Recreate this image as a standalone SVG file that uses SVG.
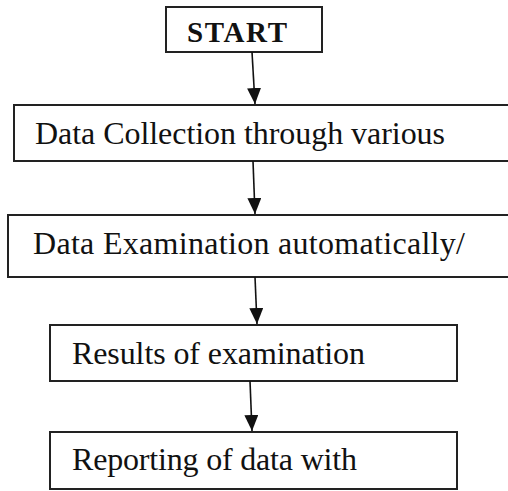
<svg xmlns="http://www.w3.org/2000/svg" width="508" height="491" viewBox="0 0 508 491">
<style>
.box{fill:#fff;stroke:#222;stroke-width:2}
text{font-family:'Liberation Serif',serif;font-size:32px;fill:#111}
.b{font-weight:bold;font-size:29px}
.c{fill:none;stroke:#111;stroke-width:1.6}
</style>
<defs>
<marker id="ah2" markerUnits="userSpaceOnUse" markerWidth="16" markerHeight="14" viewBox="0 0 16 14" refX="16" refY="7" orient="auto">
<path d="M0,0 L16,7 L0,14 Z" fill="#111"/>
</marker>
</defs>
<rect width="508" height="491" fill="#fff"/>
<g id="start"><rect class="box" x="166" y="7" width="156" height="45"/><text class="b" x="187" y="42" textLength="100">START</text></g>
<g id="collection"><rect class="box" x="14" y="105" width="500" height="56"/><text x="35" y="144" textLength="410" lengthAdjust="spacing">Data Collection through various</text></g>
<g id="examination"><rect class="box" x="8" y="215" width="506" height="62"/><text x="33" y="254" textLength="432">Data Examination automatically/</text></g>
<g id="results"><rect class="box" x="50" y="325" width="407" height="56"/><text x="72" y="364" textLength="293">Results of examination</text></g>
<g id="reporting"><rect class="box" x="50" y="432" width="407" height="57"/><text x="72" y="470" textLength="285">Reporting of data with</text></g>
<g id="connectors">
<line class="c" x1="252" y1="52" x2="255" y2="104" marker-end="url(#ah2)"/>
<line class="c" x1="253" y1="161" x2="255" y2="214" marker-end="url(#ah2)"/>
<line class="c" x1="255" y1="277" x2="257" y2="324" marker-end="url(#ah2)"/>
<line class="c" x1="250" y1="381" x2="252" y2="431" marker-end="url(#ah2)"/>
</g>
</svg>
